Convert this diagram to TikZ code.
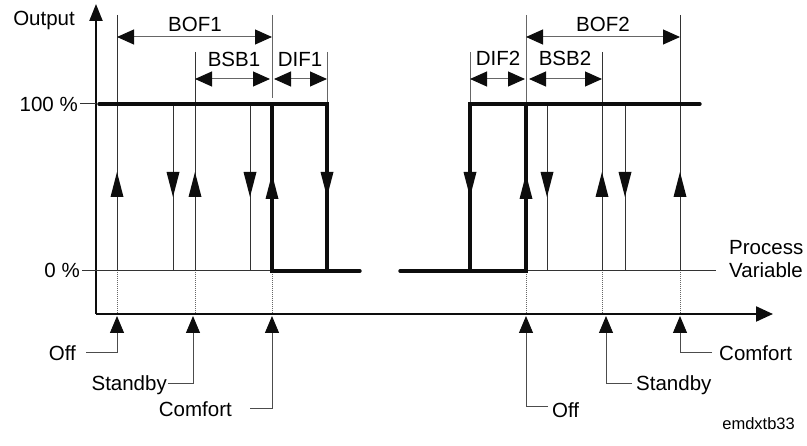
\documentclass[tikz,border=0pt]{standalone}
\usepackage{fontspec}
\setmainfont{Liberation Sans}
\usetikzlibrary{arrows.meta}
\tikzset{
  thinln/.style={line width=1pt, black!80},
  dimext/.style={line width=1pt, black!60},
  thickln/.style={line width=3.4pt, black!95, line cap=round},
  axisln/.style={line width=2.2pt, black!95},
  dotln/.style={line width=0.9pt, black!60, dash pattern=on 1pt off 1pt},
  dimln/.style={line width=1pt, black!60, {Triangle[length=17pt,width=15pt,black!95]}-{Triangle[length=17pt,width=15pt,black!95]}},
  leadln/.style={line width=1pt, black!70, -{Triangle[length=17pt,width=14pt,black!95]}},
  lbl/.style={font=\fontsize{20.5}{23}\selectfont, inner sep=0pt, text=black},
  small/.style={font=\fontsize{16.5}{19}\selectfont, inner sep=0pt, text=black},
}
\newcommand\uptri[2]{\fill[black!95] (#1,#2) -- ++(-6.5,25) -- ++(13,0) -- cycle;}
\newcommand\dntri[2]{\fill[black!95] (#1,#2) -- ++(-6.5,-25) -- ++(13,0) -- cycle;}
\begin{document}
\begin{tikzpicture}[x=1pt,y=-1pt]
\useasboundingbox (0,0) rectangle (807,446);
% axes
\coordinate (O) at (96,314);
\coordinate (ytip) at (96,4);
\coordinate (xtip) at (773,314);
\draw[axisln, -{Triangle[length=17pt,width=13pt]}] (O) -- (ytip);
\draw[axisln, -{Triangle[length=17pt,width=15pt]}] (O) -- (xtip);
% axis labels
\node[lbl, anchor=base east] (out) at (75,26) {Output};
\node[lbl, anchor=base east] (p100) at (78,112) {100 \%};
\node[lbl, anchor=base east] (p0) at (80,278) {0 \%};
\node[lbl, anchor=base west, align=left] (pv1) at (729,255) {Process};
\node[lbl, anchor=base west] (pv2) at (729,278) {Variable};
% level lines
\draw[thinln] (80,104) -- (96,104);
\draw[thinln] (82,271) -- (272,271);
\draw[thinln] (526,271) -- (716,271);
% thin verticals
\draw[thinln] (117,15) -- (117,271);
\draw[thinln] (173,104) -- (173,271);
\draw[thinln] (195,52) -- (195,271);
\draw[thinln] (250,104) -- (250,271);
\draw[dimext] (272,15) -- (272,98);
\draw[dimext] (327,52) -- (327,104);
\draw[dimext] (470,52) -- (470,104);
\draw[dimext] (526,15) -- (526,104);
\draw[thinln] (547,104) -- (547,271);
\draw[thinln] (602,52) -- (602,271);
\draw[thinln] (625,104) -- (625,271);
\draw[thinln] (680,15) -- (680,271);
% dotted continuations
\foreach \x in {117,195,272,526,602,680} \draw[dotln] (\x,272) -- (\x,313);
% thick characteristic lines
\draw[thickln] (99,104) -- (327,104) -- (327,271);
\draw[thickln] (272,104) -- (272,271) -- (360,271);
\draw[thickln] (400,271) -- (526,271) -- (526,104);
\draw[thickln] (470,271) -- (470,104) -- (700,104);
% direction arrows
\uptri{117}{172}
\dntri{173}{197}
\uptri{195}{172}
\dntri{250}{197}
\uptri{272}{174}
\dntri{327}{197}
\dntri{470}{197}
\uptri{526}{174}
\dntri{547}{197}
\uptri{602}{172}
\dntri{625}{197}
\uptri{680}{172}
% dimension lines
\draw[dimln] (117,37) -- (272,37);
\draw[dimln] (195,79) -- (270,79);
\draw[dimln] (274,79) -- (327,79);
\draw[dimln] (526,37) -- (680,37);
\draw[dimln] (470,79) -- (525,79);
\draw[dimln] (529,79) -- (602,79);
\node[lbl, anchor=base] (bof1) at (195,32) {BOF1};
\node[lbl, anchor=base] (bsb1) at (234,67) {BSB1};
\node[lbl, anchor=base] (dif1) at (300,67) {DIF1};
\node[lbl, anchor=base] (bof2) at (603,32) {BOF2};
\node[lbl, anchor=base] (dif2) at (498,66) {DIF2};
\node[lbl, anchor=base] (bsb2) at (565,66) {BSB2};
% bottom labels with leaders
\node[lbl, anchor=base east] (off1) at (76,361) {Off};
\node[lbl, anchor=base east] (stb1) at (167,391) {Standby};
\node[lbl, anchor=base east] (cmf1) at (232,417) {Comfort};
\node[lbl, anchor=base west] (off2) at (552,418) {Off};
\node[lbl, anchor=base west] (stb2) at (636,391) {Standby};
\node[lbl, anchor=base west] (cmf2) at (719,361) {Comfort};
\coordinate (t1) at (117,316);
\coordinate (t2) at (193,316);
\coordinate (t3) at (272,316);
\coordinate (t4) at (526,316);
\coordinate (t5) at (606,316);
\coordinate (t6) at (680,316);
\draw[leadln] (86,353) -| (t1);
\draw[leadln] (168,384) -| (t2);
\draw[leadln] (250,409) -| (t3);
\draw[leadln] (548,407) -| (t4);
\draw[leadln] (632,384) -| (t5);
\draw[leadln] (712,353) -| (t6);
\node[small, anchor=base east] (ref) at (795,430) {emdxtb33};
\end{tikzpicture}
\end{document}
